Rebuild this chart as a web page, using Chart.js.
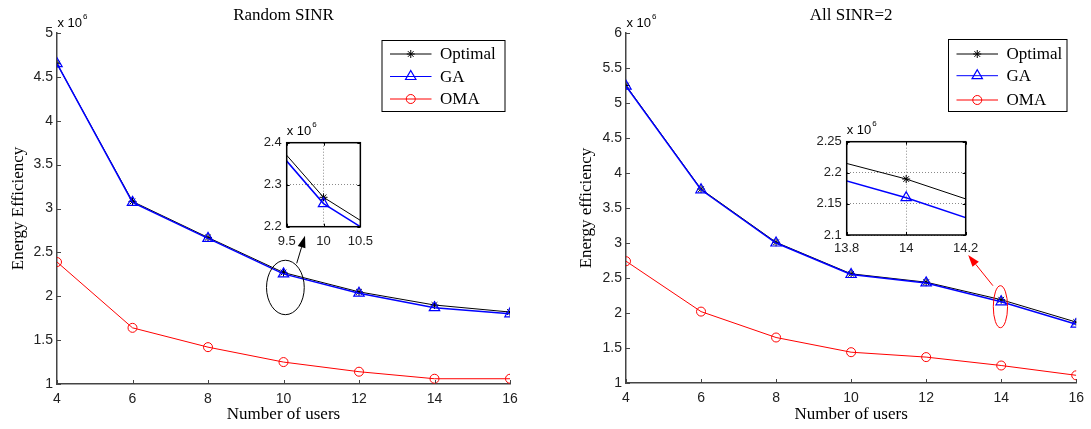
<!DOCTYPE html>
<html>
<head>
<meta charset="utf-8">
<script src="https://cdn.jsdelivr.net/npm/chart.js@4.4.0/dist/chart.umd.min.js"></script>
<style>
html,body{margin:0;padding:0;background:#fff;}
#wrap{position:relative;width:1091px;height:429px;overflow:hidden;background:#fff;}
canvas{position:absolute;display:block;}
</style>
</head>
<body>
<div id="wrap">
  <canvas id="mainL" width="545" height="429" style="left:0;top:0;width:545px;height:429px"></canvas>
  <canvas id="mainR" width="531" height="429" style="left:560px;top:0;width:531px;height:429px"></canvas>
  <canvas id="insetL" width="135" height="137" style="left:245px;top:118px;width:135px;height:137px"></canvas>
  <canvas id="insetR" width="185" height="142" style="left:800px;top:118px;width:185px;height:142px"></canvas>
</div>
<script>
// ---------------- data (values in units of 10^6) ----------------
const users = [4, 6, 8, 10, 12, 14, 16];
const seriesNames = ['Optimal', 'GA', 'OMA'];
// Random SINR
const optimalRandom = [4.65, 3.08, 2.67, 2.27, 2.05, 1.90, 1.82];
const gaRandom      = [4.65, 3.07, 2.66, 2.255, 2.035, 1.87, 1.80];
const omaRandom     = [2.39, 1.64, 1.42, 1.25, 1.14, 1.06, 1.06];
// All SINR = 2
const optimalFixed  = [5.25, 3.77, 3.01, 2.56, 2.44, 2.19, 1.87];
const gaFixed       = [5.24, 3.76, 3.00, 2.55, 2.43, 2.16, 1.84];
const omaFixed      = [2.74, 2.02, 1.65, 1.44, 1.37, 1.25, 1.11];
// axis ticks
const xTicksMain = {min: 4, max: 16, step: 2};
const yTicksRandom = {min: 1, max: 5, step: 0.5};
const yTicksFixed = {min: 1, max: 6, step: 0.5};
const insetRandomX = {min: 9.5, max: 10.5, step: 0.5};
const insetRandomY = {min: 2.2, max: 2.4, step: 0.1};
const insetFixedX = {min: 13.8, max: 14.2, step: 0.2};
const insetFixedY = {min: 2.1, max: 2.25, step: 0.05};

// ---------------- styles ----------------
const SANS = '"Liberation Sans", Arial, Helvetica, sans-serif';
const SERIF = '"Liberation Serif", "Times New Roman", Times, serif';
const AXIS_COLOR = '#444';
const TICK_COLOR = '#222';
const fmt = v => String(+Number(v).toFixed(4));

function pts(vals) { return users.map((u, i) => ({x: u, y: vals[i]})); }

function makeDatasets(opt, ga, oma, inset) {
  const clip = inset ? 0 : undefined;
  const ds = [
    {label: seriesNames[0], data: pts(opt), borderColor: '#000', borderWidth: 1,
     pointStyle: 'star', pointRadius: 4, pointBorderColor: '#000', pointBorderWidth: 1,
     pointBackgroundColor: 'rgba(0,0,0,0)', order: 2, clip: clip},
    {label: seriesNames[1], data: pts(ga), borderColor: '#0000ff', borderWidth: 1.5,
     pointStyle: 'triangle', pointRadius: 6, pointBorderColor: '#0000ff', pointBorderWidth: 1.2,
     pointBackgroundColor: 'rgba(0,0,0,0)', order: 1, clip: clip}
  ];
  if (!inset) {
    ds.push({label: seriesNames[2], data: pts(oma), borderColor: '#ff0000', borderWidth: 1,
     pointStyle: 'circle', pointRadius: 4.5, pointBorderColor: '#ff0000', pointBorderWidth: 1,
     pointBackgroundColor: 'rgba(0,0,0,0)', order: 3});
  }
  return ds;
}

function drawExp(ctx, x, y, size) {
  ctx.save();
  ctx.fillStyle = '#000';
  ctx.textAlign = 'left';
  ctx.textBaseline = 'alphabetic';
  ctx.font = size + 'px ' + SANS;
  const t = 'x 10';
  ctx.fillText(t, x, y);
  const w = ctx.measureText(t).width;
  ctx.font = Math.round(size * 0.62) + 'px ' + SANS;
  ctx.fillText('6', x + w + 1, y - size * 0.6);
  ctx.restore();
}

function drawArrow(ctx, x1, y1, x2, y2, color) {
  ctx.save();
  ctx.strokeStyle = color; ctx.fillStyle = color; ctx.lineWidth = 1;
  const ang = Math.atan2(y2 - y1, x2 - x1);
  const L = 12, W = 4;
  const bx = x2 - L * Math.cos(ang), by = y2 - L * Math.sin(ang);
  ctx.beginPath(); ctx.moveTo(x1, y1); ctx.lineTo(bx, by); ctx.stroke();
  ctx.beginPath();
  ctx.moveTo(x2, y2);
  ctx.lineTo(bx + W * Math.sin(ang), by - W * Math.cos(ang));
  ctx.lineTo(bx - W * Math.sin(ang), by + W * Math.cos(ang));
  ctx.closePath(); ctx.fill();
  ctx.restore();
}

function drawMarker(ctx, ds, x, y) {
  ctx.save();
  ctx.strokeStyle = ds.pointBorderColor;
  ctx.fillStyle = ds.pointBackgroundColor;
  ctx.lineWidth = ds.pointBorderWidth;
  if (Chart.helpers && Chart.helpers.drawPoint) {
    Chart.helpers.drawPoint(ctx, {pointStyle: ds.pointStyle, radius: ds.pointRadius,
      borderWidth: ds.pointBorderWidth, rotation: 0}, x, y);
  }
  ctx.restore();
}

function decoPlugin(cfg) {
  return {
    id: 'deco' + cfg.name,
    beforeDraw(chart) {
      if (cfg.inset) {
        const a = chart.chartArea, ctx = chart.ctx;
        ctx.save(); ctx.fillStyle = '#fff';
        ctx.fillRect(a.left, a.top, a.right - a.left, a.bottom - a.top);
        ctx.restore();
      }
    },
    afterDraw(chart) {
      const ctx = chart.ctx, a = chart.chartArea;
      const xs = chart.scales.x, ys = chart.scales.y;
      const tl = cfg.inset ? 3 : 4;
      ctx.save();
      ctx.strokeStyle = cfg.inset ? '#000' : AXIS_COLOR;
      ctx.lineWidth = 1;
      ctx.beginPath();
      xs.ticks.forEach(t => {
        const px = Math.round(xs.getPixelForValue(t.value)) + 0.5;
        ctx.moveTo(px, a.bottom); ctx.lineTo(px, a.bottom - tl);
        if (cfg.inset) { ctx.moveTo(px, a.top); ctx.lineTo(px, a.top + tl); }
      });
      ys.ticks.forEach(t => {
        const py = Math.round(ys.getPixelForValue(t.value)) + 0.5;
        ctx.moveTo(a.left, py); ctx.lineTo(a.left + tl, py);
        if (cfg.inset) { ctx.moveTo(a.right, py); ctx.lineTo(a.right - tl, py); }
      });
      ctx.stroke();
      if (cfg.inset) {
        ctx.strokeStyle = '#000'; ctx.lineWidth = 1.5;
        ctx.strokeRect(a.left, a.top, a.right - a.left, a.bottom - a.top);
      }
      ctx.restore();

      drawExp(ctx, a.left + (cfg.inset ? 0 : 0.5), a.top - (cfg.inset ? 7.5 : 6.5), 13);

      if (cfg.annot) {
        const an = cfg.annot;
        const cx = xs.getPixelForValue(an.ellipse.x), cy = ys.getPixelForValue(an.ellipse.y);
        const rx = Math.abs(xs.getPixelForValue(an.ellipse.x + an.ellipse.rx) - cx);
        const ry = Math.abs(ys.getPixelForValue(an.ellipse.y + an.ellipse.ry) - cy);
        ctx.save();
        ctx.strokeStyle = an.color; ctx.lineWidth = 1;
        ctx.beginPath(); ctx.ellipse(cx, cy, rx, ry, 0, 0, Math.PI * 2); ctx.stroke();
        ctx.restore();
        drawArrow(ctx, xs.getPixelForValue(an.arrow.x1), ys.getPixelForValue(an.arrow.y1),
                  xs.getPixelForValue(an.arrow.x2), ys.getPixelForValue(an.arrow.y2), an.color);
      }

      if (cfg.legend) {
        const L = cfg.legend;
        ctx.save();
        ctx.fillStyle = '#fff';
        ctx.fillRect(L.left, L.top, L.width, L.height);
        ctx.strokeStyle = '#000'; ctx.lineWidth = 1;
        ctx.strokeRect(L.left + 0.5, L.top + 0.5, L.width, L.height);
        chart.data.datasets.forEach((ds, i) => {
          const y = L.top + L.rows[i];
          ctx.strokeStyle = ds.borderColor; ctx.lineWidth = 1;
          ctx.beginPath(); ctx.moveTo(L.left + L.lineX0, y); ctx.lineTo(L.left + L.lineX1, y); ctx.stroke();
          drawMarker(ctx, ds, L.left + (L.lineX0 + L.lineX1) / 2, y);
          ctx.fillStyle = '#000';
          ctx.font = '17px ' + SERIF;
          ctx.textAlign = 'left'; ctx.textBaseline = 'middle';
          ctx.fillText(ds.label, L.left + L.textX, y + 1);
        });
        ctx.restore();
      }
    }
  };
}

function mainChart(id, cfg) {
  return new Chart(document.getElementById(id), {
    type: 'line',
    data: {datasets: makeDatasets(cfg.opt, cfg.ga, cfg.oma, false)},
    options: {
      responsive: false, animation: false, events: [], devicePixelRatio: 1,
      layout: {padding: {left: 0, top: 0, right: cfg.padRight, bottom: 0}},
      plugins: {
        legend: {display: false}, tooltip: {enabled: false},
        title: {display: true, text: cfg.title, fullSize: false, color: '#000',
                font: {family: SERIF, size: 17, weight: 'normal'},
                padding: {top: 5.5, bottom: 7.1}}
      },
      scales: {
        x: {type: 'linear', min: xTicksMain.min, max: xTicksMain.max,
            ticks: {stepSize: xTicksMain.step, color: TICK_COLOR, font: {family: SANS, size: 14},
                    padding: 7, maxRotation: 0, autoSkip: false, callback: fmt},
            grid: {display: true, drawOnChartArea: false, drawTicks: false},
            border: {display: true, color: AXIS_COLOR, width: 1.5},
            title: {display: true, text: 'Number of users', color: '#000',
                    font: {family: SERIF, size: 17, weight: 'normal'}, padding: {top: 0, bottom: 4}},
            afterFit(s) { s.height = cfg.xHeight; }},
        y: {type: 'linear', min: cfg.yT.min, max: cfg.yT.max,
            ticks: {stepSize: cfg.yT.step, color: TICK_COLOR, font: {family: SANS, size: 14}, padding: 4, callback: fmt},
            grid: {display: true, drawOnChartArea: false, drawTicks: false},
            border: {display: true, color: AXIS_COLOR, width: 1.5},
            title: {display: true, text: cfg.yTitle, color: '#000',
                    font: {family: SERIF, size: 17, weight: 'normal'}, padding: {top: cfg.yTitlePad, bottom: 0}},
            afterFit(s) { s.width = cfg.yWidth; }}
      }
    },
    plugins: [decoPlugin(cfg)]
  });
}

function insetChart(id, cfg) {
  return new Chart(document.getElementById(id), {
    type: 'line',
    data: {datasets: makeDatasets(cfg.opt, cfg.ga, null, true)},
    options: {
      responsive: false, animation: false, events: [], devicePixelRatio: 1,
      layout: {padding: {left: 0, top: cfg.padTop, right: cfg.padRight, bottom: 0}},
      plugins: {legend: {display: false}, tooltip: {enabled: false}, title: {display: false}},
      scales: {
        x: {type: 'linear', min: cfg.xT.min, max: cfg.xT.max,
            ticks: {stepSize: cfg.xT.step, color: TICK_COLOR, font: {family: SANS, size: 13},
                    padding: cfg.xPad, maxRotation: 0, autoSkip: false, callback: fmt},
            grid: {display: true, drawOnChartArea: true, drawTicks: false, color: '#8a8a8a', lineWidth: 1},
            border: {display: false, dash: [1, 2]},
            afterFit(s) { s.height = cfg.xHeight; }},
        y: {type: 'linear', min: cfg.yT.min, max: cfg.yT.max,
            ticks: {stepSize: cfg.yT.step, color: TICK_COLOR, font: {family: SANS, size: 13}, padding: 5, callback: fmt},
            grid: {display: true, drawOnChartArea: true, drawTicks: false, color: '#8a8a8a', lineWidth: 1},
            border: {display: false, dash: [1, 2]},
            afterFit(s) { s.width = cfg.yWidth; }}
      }
    },
    plugins: [decoPlugin(cfg)]
  });
}

mainChart('mainL', {
  name: 'L', title: 'Random SINR', yTitle: 'Energy Efficiency',
  opt: optimalRandom, ga: gaRandom, oma: omaRandom, yT: yTicksRandom,
  padRight: 35, yWidth: 57, xHeight: 45, yTitlePad: 8.3,
  legend: {left: 381.5, top: 40, width: 123, height: 71, rows: [14, 36.5, 59], lineX0: 8.5, lineX1: 50, textX: 58.5},
  annot: {color: '#000', ellipse: {x: 10.05, y: 2.1, rx: 0.5, ry: 0.31},
          arrow: {x1: 10.35, y1: 2.375, x2: 10.57, y2: 2.69}}
});
mainChart('mainR', {
  name: 'R', title: 'All SINR=2', yTitle: 'Energy efficiency',
  opt: optimalFixed, ga: gaFixed, oma: omaFixed, yT: yTicksFixed,
  padRight: 14.5, yWidth: 66, xHeight: 46, yTitlePad: 16.8,
  legend: {left: 388, top: 39, width: 118.5, height: 72, rows: [15, 36.7, 61], lineX0: 8.5, lineX1: 50, textX: 58.5},
  annot: {color: '#ff0000', ellipse: {x: 13.98, y: 2.09, rx: 0.19, ry: 0.3},
          arrow: {x1: 13.78, y1: 2.39, x2: 13.12, y2: 2.83}}
});
insetChart('insetL', {
  name: 'IL', inset: true, opt: optimalRandom, ga: gaRandom,
  xT: insetRandomX, yT: insetRandomY,
  padTop: 24.7, padRight: 17, yWidth: 41.7, xHeight: 28.3, xPad: 7
});
insetChart('insetR', {
  name: 'IR', inset: true, opt: optimalFixed, ga: gaFixed,
  xT: insetFixedX, yT: insetFixedY,
  padTop: 23.7, padRight: 19.3, yWidth: 46.7, xHeight: 25, xPad: 6
});
</script>
</body>
</html>
